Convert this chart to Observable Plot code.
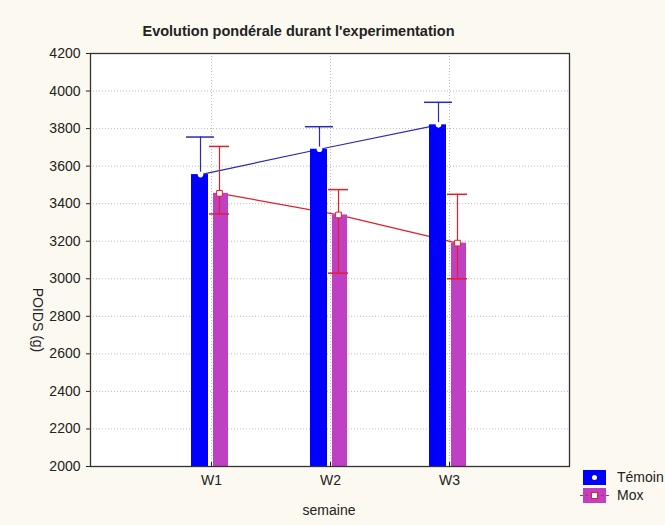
<!DOCTYPE html>
<html>
<head>
<meta charset="utf-8">
<script src="https://cdn.jsdelivr.net/npm/d3@7"></script>
<script src="https://cdn.jsdelivr.net/npm/@observablehq/plot@0.6"></script>
<style>
  html, body { margin: 0; padding: 0; background: #fcf9f0; }
  #wrap { position: relative; width: 665px; height: 525px; background: #fcf9f0; font-family: "Liberation Sans", Arial, sans-serif; color: #222; }
  #title { position: absolute; left: 0; width: 597px; top: 23px; text-align: center; font-weight: bold; font-size: 14.5px; }
  #ylab { position: absolute; left: 38px; top: 320px; font-size: 14px; transform: translate(-50%, -50%) rotate(90deg); white-space: nowrap; }
  #xlab { position: absolute; left: 329px; top: 502px; font-size: 14px; transform: translateX(-50%); }
  .leg { position: absolute; left: 583px; font-size: 14px; }
  .sw { position: absolute; width: 23px; height: 15px; }
  .lt { position: absolute; left: 34px; top: -1px; white-space: nowrap; }
</style>
</head>
<body>
<div id="wrap">
  <div id="chart"></div>
  <div id="title">Evolution pondérale durant l'experimentation</div>
  <div id="ylab">POIDS (g)</div>
  <div id="xlab">semaine</div>
  <div class="leg" style="top:470px">
    <div class="sw" style="background:#0000ff"><div style="position:absolute;left:9px;top:5px;width:5px;height:5px;border-radius:50%;background:#fff"></div></div>
    <div class="lt">Témoin</div>
  </div>
  <div class="leg" style="top:488px">
    <div class="sw" style="background:#c040c4">
      <div style="position:absolute;left:-3px;top:7px;width:29px;border-top:1.5px dashed #e0202a"></div>
      <div style="position:absolute;left:8px;top:4px;width:5px;height:5px;background:#fff;border:1px solid #e0202a"></div>
    </div>
    <div class="lt">Mox</div>
  </div>
</div>
<script>
const weeks = ["W1", "W2", "W3"];
const temoin = [3555, 3690, 3820];
const temoinHigh = [3755, 3810, 3940];
const mox = [3455, 3340, 3190];
const moxHigh = [3705, 3475, 3450];
const moxLow = [3345, 3030, 3000];
const yTicks = [2000, 2200, 2400, 2600, 2800, 3000, 3200, 3400, 3600, 3800, 4000, 4200];

const data = weeks.map((w, i) => ({
  week: w, temoin: temoin[i], temoinHigh: temoinHigh[i],
  mox: mox[i], moxHigh: moxHigh[i], moxLow: moxLow[i]
}));
const yMin = yTicks[0];

const blue = "#0000ff", blueLine = "#2a2ab8", mag = "#c040c4", red = "#e0202a";

const chart = Plot.plot({
  width: 665,
  height: 525,
  marginLeft: 90,
  marginRight: 96,
  marginTop: 53,
  marginBottom: 59,
  style: { background: "transparent", fontFamily: "Liberation Sans, Arial, sans-serif", fontSize: "14px", color: "#222" },
  x: { type: "band", domain: weeks, paddingInner: 0.5, paddingOuter: 0.75 },
  y: { type: "linear", domain: [yTicks[0], yTicks[yTicks.length - 1]] },
  marks: [
    Plot.frame({ fill: "white" }),
    Plot.gridY({ ticks: yTicks, stroke: "#aaa", strokeOpacity: 0.8, strokeDasharray: "1,2" }),
    Plot.gridX({ stroke: "#aaa", strokeOpacity: 0.8, strokeDasharray: "1,2" }),
    Plot.line(data, { x: "week", y: "temoin", dx: -11, stroke: blueLine, strokeWidth: 1.2 }),
    Plot.line(data, { x: "week", y: "mox", dx: 8, stroke: red, strokeWidth: 1.2 }),
    Plot.barY(data, { x: "week", y1: yMin, y2: "temoin", fill: blue, insetLeft: 10, insetRight: 33 }),
    Plot.barY(data, { x: "week", y1: yMin, y2: "mox", fill: mag, insetLeft: 32, insetRight: 13 }),
    Plot.ruleX(data, { x: "week", y1: "temoin", y2: "temoinHigh", dx: -11, stroke: blueLine, strokeWidth: 1.2 }),
    Plot.tickY(data, { x: "week", y: "temoinHigh", insetLeft: 5, insetRight: 27, stroke: blueLine, strokeWidth: 1.5 }),
    Plot.ruleX(data, { x: "week", y1: "moxLow", y2: "moxHigh", dx: 8, stroke: red, strokeWidth: 1.2 }),
    Plot.tickY(data, { x: "week", y: "moxHigh", insetLeft: 28, insetRight: 12, stroke: red, strokeWidth: 1.5 }),
    Plot.tickY(data, { x: "week", y: "moxLow", insetLeft: 28, insetRight: 12, stroke: red, strokeWidth: 1.5 }),
    Plot.dot(data, { x: "week", y: "temoin", dx: -11, r: 2.8, fill: "white" }),
    Plot.dot(data, { x: "week", y: "mox", dx: 8, r: 3.2, symbol: "square", fill: "white", stroke: red, strokeWidth: 1 }),
    Plot.axisY({ ticks: yTicks, tickFormat: d3.format("d"), tickSize: 4, tickPadding: 6, label: null, stroke: "#222" }),
    Plot.axisX({ tickSize: 0, tickPadding: 9, label: null }),
    Plot.axisX({ tickSize: 4, dy: -4, tickFormat: () => "", label: null, stroke: "#222" }),
    Plot.frame({ stroke: "#333", strokeWidth: 1.3 })
  ]
});
document.getElementById("chart").appendChild(chart);
</script>
</body>
</html>
